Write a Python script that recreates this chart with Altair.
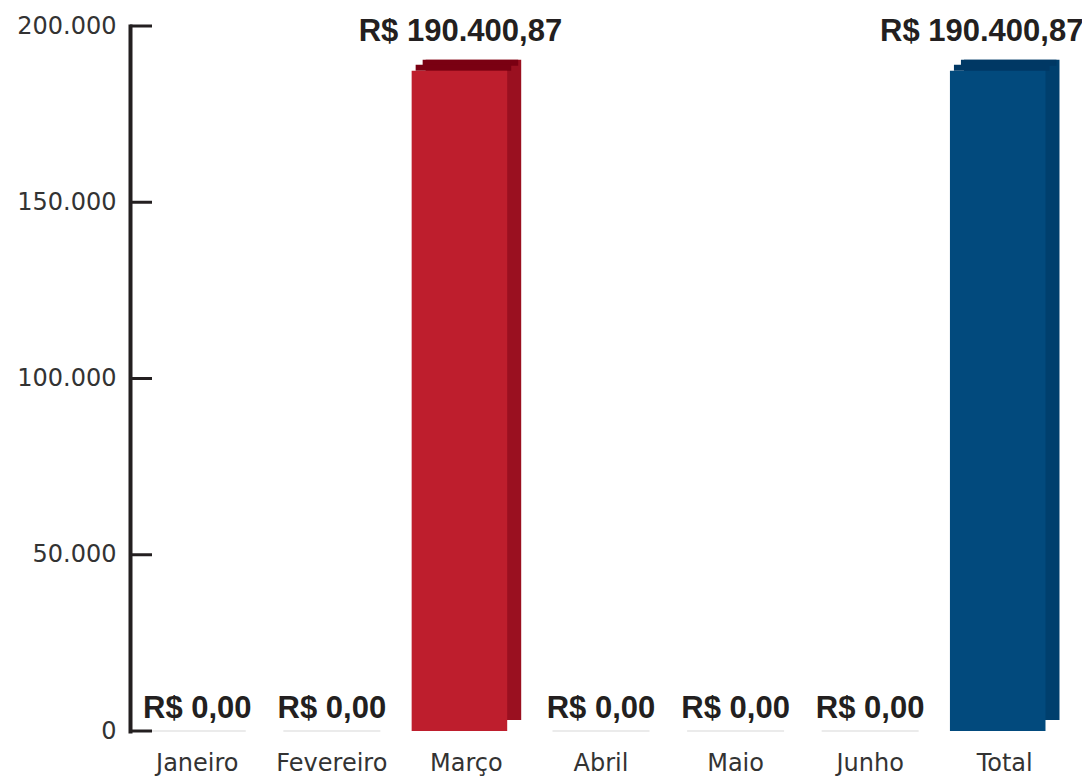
import altair as alt
import pandas as pd

categorias = ["Janeiro", "Fevereiro", "Março", "Abril", "Maio", "Junho", "Total"]
valores = [0.0, 0.0, 190400.87, 0.0, 0.0, 0.0, 190400.87]
rotulos = ["R$ 0,00", "R$ 0,00", "R$ 190.400,87", "R$ 0,00", "R$ 0,00", "R$ 0,00", "R$ 190.400,87"]
ticks_y = [0, 50000, 100000, 150000, 200000]

df = pd.DataFrame({"categoria": categorias, "valor": valores, "rotulo": rotulos})
df_ticks = pd.DataFrame({"tick": ticks_y})

FONT = "Liberation Sans"
AXIS_FONT = "DejaVu Sans"
DARK = "#231f20"
AXIS_TXT = "#333333"

RED_FRONT, RED_SIDE, RED_TOP = "#be1e2d", "#9a1020", "#7a0012"
BLUE_FRONT, BLUE_SIDE, BLUE_TOP = "#024a7d", "#003f6d", "#003864"

is_total = alt.datum.categoria == "Total"

x_enc = alt.X(
    "categoria:N",
    sort=categorias,
    scale=alt.Scale(paddingInner=0.29, paddingOuter=0.145),
    axis=alt.Axis(
        title=None, domain=False, ticks=False, labelAngle=0,
        labelFontSize=24, labelFont=AXIS_FONT, labelColor=AXIS_TXT,
        labelPadding=20, labelBaseline="top",
    ),
)
y_scale = alt.Scale(domain=[0, 200000], nice=False)
y_enc = alt.Y(
    "valor:Q",
    scale=y_scale,
    axis=alt.Axis(
        title=None, values=ticks_y, grid=False, ticks=False,
        labelExpr="replace(format(datum.value, ','), ',', '.')",
        labelFontSize=24, labelFont=AXIS_FONT, labelColor=AXIS_TXT,
        labelPadding=14, domainColor=DARK, domainWidth=4, domainCap="square",
    ),
)

base = alt.Chart(df).encode(x=x_enc)

pos = base.transform_filter(alt.datum.valor > 0)

back = pos.mark_bar(xOffset=7, y2Offset=-11).encode(
    y=y_enc,
    y2=alt.Y2Datum(0),
    color=alt.condition(is_total, alt.value(BLUE_SIDE), alt.value(RED_SIDE)),
)
top_a = pos.mark_bar(xOffset=4, y2Offset=6).encode(
    y=y_enc,
    y2=alt.Y2("valor:Q"),
    color=alt.condition(is_total, alt.value(BLUE_TOP), alt.value(RED_TOP)),
)
top_b = pos.mark_bar(xOffset=-3, yOffset=5, y2Offset=11).encode(
    y=y_enc,
    y2=alt.Y2("valor:Q"),
    color=alt.condition(is_total, alt.value(BLUE_TOP), alt.value(RED_TOP)),
)
front = pos.mark_bar(xOffset=-7, yOffset=11).encode(
    y=y_enc,
    y2=alt.Y2Datum(0),
    color=alt.condition(is_total, alt.value(BLUE_FRONT), alt.value(RED_FRONT)),
)

zero_lines = base.transform_filter(alt.datum.valor == 0).mark_tick(
    color="#c8c8c8", thickness=1, size=97
).encode(y=y_enc)

zero_labels = base.transform_filter(alt.datum.valor == 0).mark_text(
    font=FONT, fontWeight="bold", fontSize=31, color=DARK, baseline="alphabetic", dy=-13
).encode(y=y_enc, text="rotulo:N")

big_labels = base.transform_filter((alt.datum.valor > 0) & (alt.datum.categoria != "Total")).mark_text(
    font=FONT, fontWeight="bold", fontSize=31, color=DARK, baseline="alphabetic", dy=-19, dx=-6
).encode(y=y_enc, text="rotulo:N")

total_label = base.transform_filter((alt.datum.valor > 0) & (alt.datum.categoria == "Total")).mark_text(
    font=FONT, fontWeight="bold", fontSize=31, color=DARK, baseline="alphabetic", dy=-19, dx=-23
).encode(y=y_enc, text="rotulo:N")

tick_rules = alt.Chart(df_ticks).mark_rule(color=DARK, strokeWidth=3).encode(
    y=alt.Y("tick:Q", scale=y_scale),
    x=alt.value(0),
    x2=alt.value(22),
)

chart = alt.layer(
    zero_lines, back, top_a, top_b, front, zero_labels, big_labels, total_label, tick_rules
).properties(
    width=942,
    height=705,
    background="white",
    autosize=alt.AutoSizeParams(type="none"),
    padding={"left": 122, "top": 18, "right": 10, "bottom": 45},
).configure_view(strokeWidth=0, stroke="transparent")

chart.save("out.html", embed_options={"renderer": "svg", "actions": False})
